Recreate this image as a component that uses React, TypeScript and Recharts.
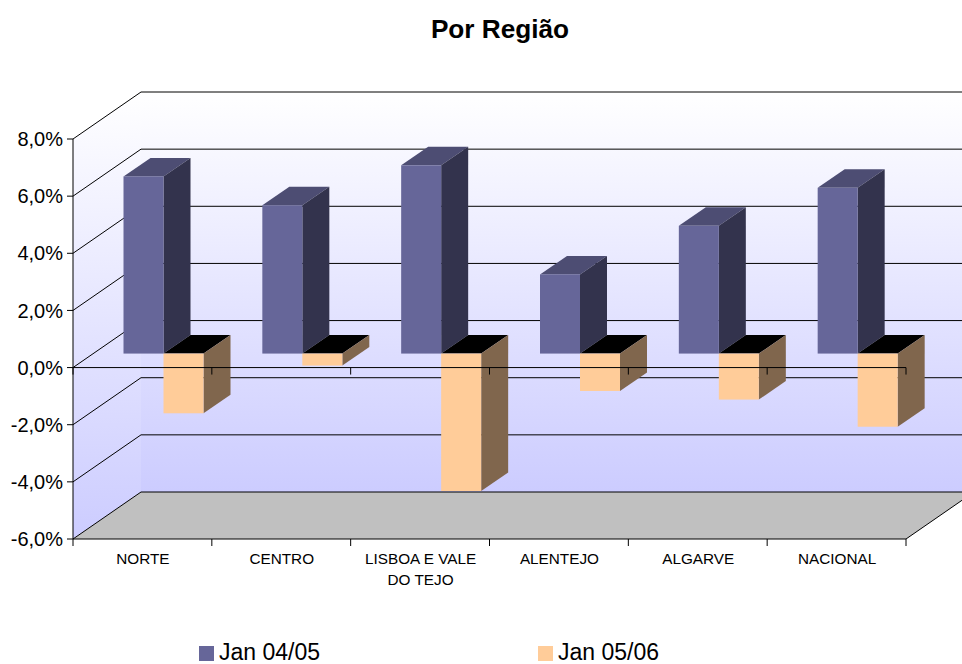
import { BarChart, Bar, XAxis, YAxis, ReferenceArea, ReferenceLine } from 'recharts';

const CATEGORIES = ['NORTE', 'CENTRO', 'LISBOA E VALE|DO TEJO', 'ALENTEJO', 'ALGARVE', 'NACIONAL'];
const JAN_0405 = [6.2, 5.19, 6.59, 2.77, 4.47, 5.8];
const JAN_0506 = [-2.09, -0.42, -4.81, -1.31, -1.61, -2.56];
const Y_TICKS = [-6, -4, -2, 0, 2, 4, 6, 8];
const GRID_TICKS = [-4, -2, 0, 2, 4, 6, 8];

const chartData = CATEGORIES.map((name, i) => ({ name, a: JAN_0405[i], b: JAN_0506[i] }));

const FONT = '"Liberation Sans", Arial, sans-serif';
// 3D projection offsets
const WALL_DX = 68;
const WALL_DY = -47;
const BAR_DX = 21.5;
const BAR_DY = -14;
const DEPTH_DX = 27;
const DEPTH_DY = -18.5;

const pts = (list: number[][]) => list.map((p) => p.join(',')).join(' ');

const bar3d = (front: string, top: string, side: string) => (props: any) => {
  const x = props.x + BAR_DX;
  const w = props.width;
  const y1 = Math.min(props.y, props.y + props.height) + BAR_DY;
  const y2 = Math.max(props.y, props.y + props.height) + BAR_DY;
  return (
    <g>
      <polygon points={pts([[x, y1], [x + DEPTH_DX, y1 + DEPTH_DY], [x + w + DEPTH_DX, y1 + DEPTH_DY], [x + w, y1]])} fill={top} />
      <polygon points={pts([[x + w, y1], [x + w + DEPTH_DX, y1 + DEPTH_DY], [x + w + DEPTH_DX, y2 + DEPTH_DY], [x + w, y2]])} fill={side} />
      <rect x={x} y={y1} width={w} height={y2 - y1} fill={front} />
    </g>
  );
};

const Walls = (props: any) => {
  const { x, y, width, height } = props;
  const b = y + height;
  return (
    <g>
      <polygon points={pts([[x, y], [x + WALL_DX, y + WALL_DY], [x + WALL_DX, b + WALL_DY], [x, b]])} fill="url(#wallFill)" />
      <rect x={x + WALL_DX} y={y + WALL_DY} width={width} height={height} fill="url(#wallFill)" />
      <polygon points={pts([[x, b], [x + WALL_DX, b + WALL_DY], [x + width + WALL_DX, b + WALL_DY], [x + width, b]])} fill="#c0c0c0" />
      <path d={`M${x} ${b}L${x + WALL_DX} ${b + WALL_DY}H${x + width + WALL_DX}L${x + width} ${b}`} fill="none" stroke="#000" strokeWidth={1} />
    </g>
  );
};

const GridLine = (props: any) => {
  const { x1, y1, x2 } = props;
  return (
    <path
      d={`M${x1} ${y1}L${x1 + WALL_DX} ${y1 + WALL_DY}H${x2 + WALL_DX}`}
      fill="none"
      stroke="#000"
      strokeWidth={1}
    />
  );
};

const ZeroAxis = (props: any) => {
  const { x1, y1, x2 } = props;
  const step = (x2 - x1) / CATEGORIES.length;
  return (
    <g stroke="#000" strokeWidth={1}>
      <line x1={x1} x2={x2} y1={y1} y2={y1} />
      {[0, ...CATEGORIES.map((_, i) => i + 1)].map((i) => (
        <line key={i} x1={x1 + i * step} x2={x1 + i * step} y1={y1} y2={y1 + 7} />
      ))}
    </g>
  );
};

const CategoryTick = (props: any) => {
  const { x, y, payload, index } = props;
  const half = payload.offset ?? 0;
  const lines = String(payload.value).split('|');
  return (
    <g>
      <line x1={x - half} x2={x - half} y1={y - 8} y2={y - 1} stroke="#000" />
      {index === CATEGORIES.length - 1 && <line x1={x + half} x2={x + half} y1={y - 8} y2={y - 1} stroke="#000" />}
      {lines.map((t, i) => (
        <text key={t} x={x + 0.5} y={y + 17 + i * 21} textAnchor="middle" fontSize={15.3} fontFamily={FONT} fill="#000">
          {t}
        </text>
      ))}
    </g>
  );
};

const LegendEntry = ({ x, color, label }: { x: number; color: string; label: string }) => (
  <g>
    <rect x={x} y={646} width={15} height={15} fill={color} />
    <text x={x + 20} y={660} fontSize={23} fontFamily={FONT} fill="#000">
      {label}
    </text>
  </g>
);

export default function App() {
  return (
    <div style={{ position: 'absolute', left: 0, top: 0, width: 962, height: 664, background: '#fff' }}>
      <BarChart
        width={962}
        height={664}
        data={chartData}
        margin={{ top: 139, right: 56, bottom: 65, left: 0 }}
        barSize={40}
        barGap={0}
      >
        <defs>
          <linearGradient id="wallFill" x1="0" y1="0" x2="0" y2="1">
            <stop offset="0" stopColor="#ffffff" />
            <stop offset="1" stopColor="#ccccff" />
          </linearGradient>
        </defs>
        <text x={500} y={38} textAnchor="middle" fontSize={26.2} fontWeight="bold" fontFamily={FONT} fill="#000">
          Por Região
        </text>
        <ReferenceArea y1={-6} y2={8} shape={Walls} zIndex={-300} />
        {GRID_TICKS.map((t) => (
          <ReferenceLine key={t} y={t} shape={GridLine} zIndex={-200} />
        ))}
        <Bar dataKey="a" name="Jan 04/05" isAnimationActive={false} shape={bar3d('#666699', '#4d4d73', '#33334d')} />
        <Bar dataKey="b" name="Jan 05/06" isAnimationActive={false} shape={bar3d('#ffcc99', '#000000', '#80664d')} />
        <ReferenceLine y={0} shape={ZeroAxis} zIndex={900} />
        <YAxis
          width={73}
          domain={[-6, 8]}
          ticks={Y_TICKS}
          interval={0}
          tickFormatter={(v: number) => v.toFixed(1).replace('.', ',') + '%'}
          tick={{ fontSize: 20, fontFamily: FONT, fill: '#000' }}
          tickSize={6}
          tickMargin={4}
          axisLine={{ stroke: '#000' }}
          tickLine={{ stroke: '#000' }}
        />
        <XAxis
          dataKey="name"
          height={60}
          interval={0}
          tick={CategoryTick}
          tickLine={false}
          axisLine={{ stroke: '#000' }}
        />
        <LegendEntry x={199} color="#666699" label="Jan 04/05" />
        <LegendEntry x={538} color="#ffcc99" label="Jan 05/06" />
      </BarChart>
    </div>
  );
}
